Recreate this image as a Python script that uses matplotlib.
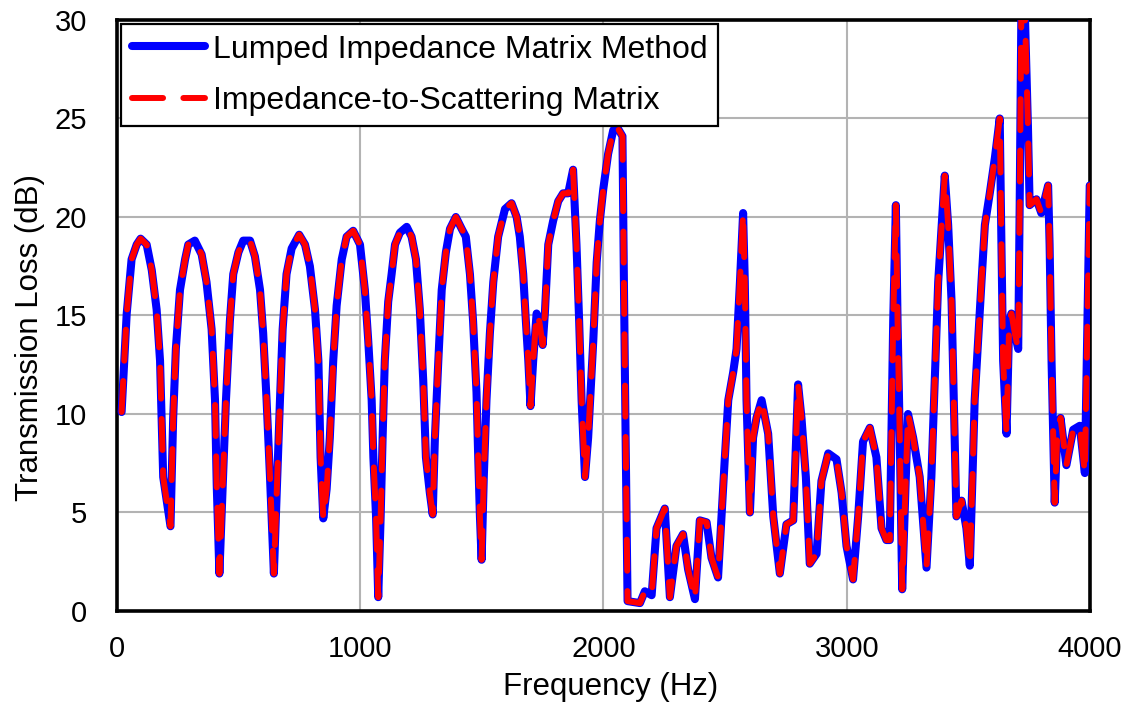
import matplotlib
matplotlib.use("Agg")
import matplotlib.pyplot as plt

plt.rcParams['font.family'] = ['Liberation Sans', 'DejaVu Sans']

freq = [19, 40, 60, 81, 97, 122, 143, 163, 177, 190, 220, 231, 242, 259, 280, 293, 320, 348, 368, 389,
        403, 410, 421, 434, 448, 464, 478, 499, 519, 547, 567, 588, 601, 615, 629, 645, 659, 670, 681, 697,
        718, 749, 773, 793, 814, 828, 837, 848, 862, 875, 889, 903, 924, 944, 971, 999, 1019, 1033, 1047, 1054,
        1065, 1074, 1084, 1092, 1101, 1115, 1129, 1143, 1163, 1191, 1211, 1229, 1245, 1259, 1270, 1286, 1298,
        1307, 1321, 1335, 1352, 1369, 1393, 1417, 1434, 1451, 1464, 1478, 1485, 1492, 1499, 1508, 1519, 1533,
        1547, 1567, 1595, 1622, 1643, 1656, 1670, 1681, 1691, 1700, 1711, 1725, 1736, 1750, 1759, 1773, 1793,
        1814, 1834, 1855, 1875, 1889, 1900, 1910, 1924, 1937, 1958, 1972, 1985, 1999, 2019, 2040, 2054, 2078,
        2084, 2091, 2099, 2150, 2170, 2198, 2218, 2252, 2273, 2300, 2327, 2348, 2376, 2396, 2424, 2444, 2471,
        2485, 2499, 2513, 2533, 2547, 2561, 2574, 2581, 2588, 2602, 2615, 2629, 2650, 2677, 2698, 2725, 2752,
        2780, 2800, 2814, 2832, 2848, 2876, 2896, 2924, 2958, 2979, 2999, 3026, 3047, 3067, 3095, 3122, 3143,
        3163, 3177, 3191, 3202, 3209, 3218, 3228, 3243, 3252, 3273, 3300, 3328, 3348, 3362, 3376, 3403, 3417,
        3431, 3440, 3451, 3472, 3492, 3506, 3517, 3526, 3540, 3554, 3568, 3588, 3609, 3629, 3636, 3643, 3657,
        3668, 3677, 3691, 3705, 3711, 3718, 3732, 3745, 3752, 3780, 3800, 3828, 3834, 3842, 3855, 3865, 3879,
        3903, 3931, 3958, 3979, 3999]

tl_lumped = [10.1, 15.1, 17.85, 18.6, 18.9, 18.6, 17.3, 15.3, 12.7, 6.8, 4.3, 9.8, 13.3, 16.3, 17.85, 18.6, 18.8, 18.1, 16.7, 14.3,
             10.7, 6.4, 1.9, 6.2, 10.7, 14.7, 17.1, 18.2, 18.8, 18.8, 18.0, 16.3, 14.1, 10.7, 6.8, 1.9, 6.8, 10.7, 14.3, 17.1,
             18.4, 19.1, 18.6, 17.5, 15.3, 12.7, 7.8, 4.7, 6.2, 8.8, 12.7, 15.5, 17.85, 19.0, 19.3, 18.6, 16.3, 13.7, 10.7, 7.8,
             4.8, 0.7, 4.8, 8.8, 12.7, 15.7, 17.1, 18.6, 19.2, 19.5, 19.0, 17.85, 15.3, 11.7, 7.8, 6.0, 4.9,
             8.8, 12.7, 16.3, 18.2, 19.4, 20.0, 19.4, 19.0, 17.1, 14.7, 11.1, 7.8, 4.8, 2.6, 6.8, 10.7, 14.1,
             16.7, 19.0, 20.4, 20.7, 20.0, 19.0, 17.1, 14.7, 12.7, 10.4, 12.7, 15.1, 14.7, 13.5, 15.1, 18.6, 19.8,
             20.8, 21.2, 21.2, 22.4, 18.6, 14.7, 10.7, 6.8, 8.8, 13.7, 17.7, 19.8, 21.4, 23.2, 24.4, 24.6, 24.1,
             16.7, 8.8, 0.5, 0.4, 1.0, 0.8, 4.2, 5.2, 0.7, 3.3, 3.9, 2.1, 0.6, 4.6, 4.5, 2.7, 1.7,
             4.8, 7.8, 10.7, 12.1, 13.3, 16.7, 20.2, 16.7, 10.7, 5.0, 8.8, 9.8, 10.7, 9.0, 4.8, 1.9, 4.4,
             4.6, 11.5, 9.8, 6.8, 2.4, 2.9, 6.6, 8.0, 7.7, 6.0, 3.3, 1.6, 4.8, 8.6, 9.3, 7.8, 4.2,
             3.6, 3.6, 14.7, 20.6, 14.7, 8.8, 1.1, 6.8, 10.0, 8.8, 6.8, 2.2, 6.8, 11.7, 16.7, 22.1, 19.6,
             15.7, 10.7, 4.8, 5.6, 4.2, 2.3, 6.8, 10.7, 13.7, 16.7, 19.6, 21.2, 23.0, 25.0, 18.6, 12.7, 9.0,
             14.7, 15.1, 14.1, 13.3, 20.6, 30.5, 30.5, 24.6, 20.6, 20.9, 20.2, 21.6, 18.6, 12.7, 5.5, 8.8, 9.8,
             7.4, 9.2, 9.4, 7.0, 21.6]

tl_scatter = list(tl_lumped)

xticks = [0, 1000, 2000, 3000, 4000]
yticks = [0, 5, 10, 15, 20, 25, 30]

fig = plt.figure(figsize=(11.38, 7.06), dpi=100)
ax = fig.add_axes([0.1028, 0.1346, 0.8550, 0.8371])

ax.plot(freq, tl_lumped, color='#0000ff', lw=5.8, solid_joinstyle='round', solid_capstyle='round',
        label='Lumped Impedance Matrix Method', zorder=3)
ax.plot(freq, tl_scatter, color='#ff0000', lw=4.3, dashes=(5.2, 3.4), dash_capstyle='round',
        dash_joinstyle='round', label='Impedance-to-Scattering Matrix', zorder=4)

ax.set_xlim(0, 4000)
ax.set_ylim(0, 30)
ax.set_xticks(xticks)
ax.set_yticks(yticks)
ax.tick_params(length=0, labelsize=21)
ax.tick_params(axis='x', pad=17)
ax.tick_params(axis='y', pad=21.5)
ax.grid(True, color='#b3b3b3', lw=1.5, zorder=0)
ax.set_axisbelow(True)
for s in ax.spines.values():
    s.set_linewidth(2.6)
    s.set_color('black')

ax.set_xlabel('Frequency (Hz)', fontsize=22.5, labelpad=7, x=0.507)
ax.set_ylabel('Transmission Loss (dB)', fontsize=22.5, labelpad=7, y=0.462)

leg = ax.legend(loc='upper left', fontsize=23, handlelength=2.3, handletextpad=0.25,
                borderpad=0.33, labelspacing=0.66, borderaxespad=0.13, fancybox=False, framealpha=1)
leg.get_frame().set_edgecolor('black')
leg.get_frame().set_linewidth(1.6)

fig.savefig('out.png', dpi=100)
